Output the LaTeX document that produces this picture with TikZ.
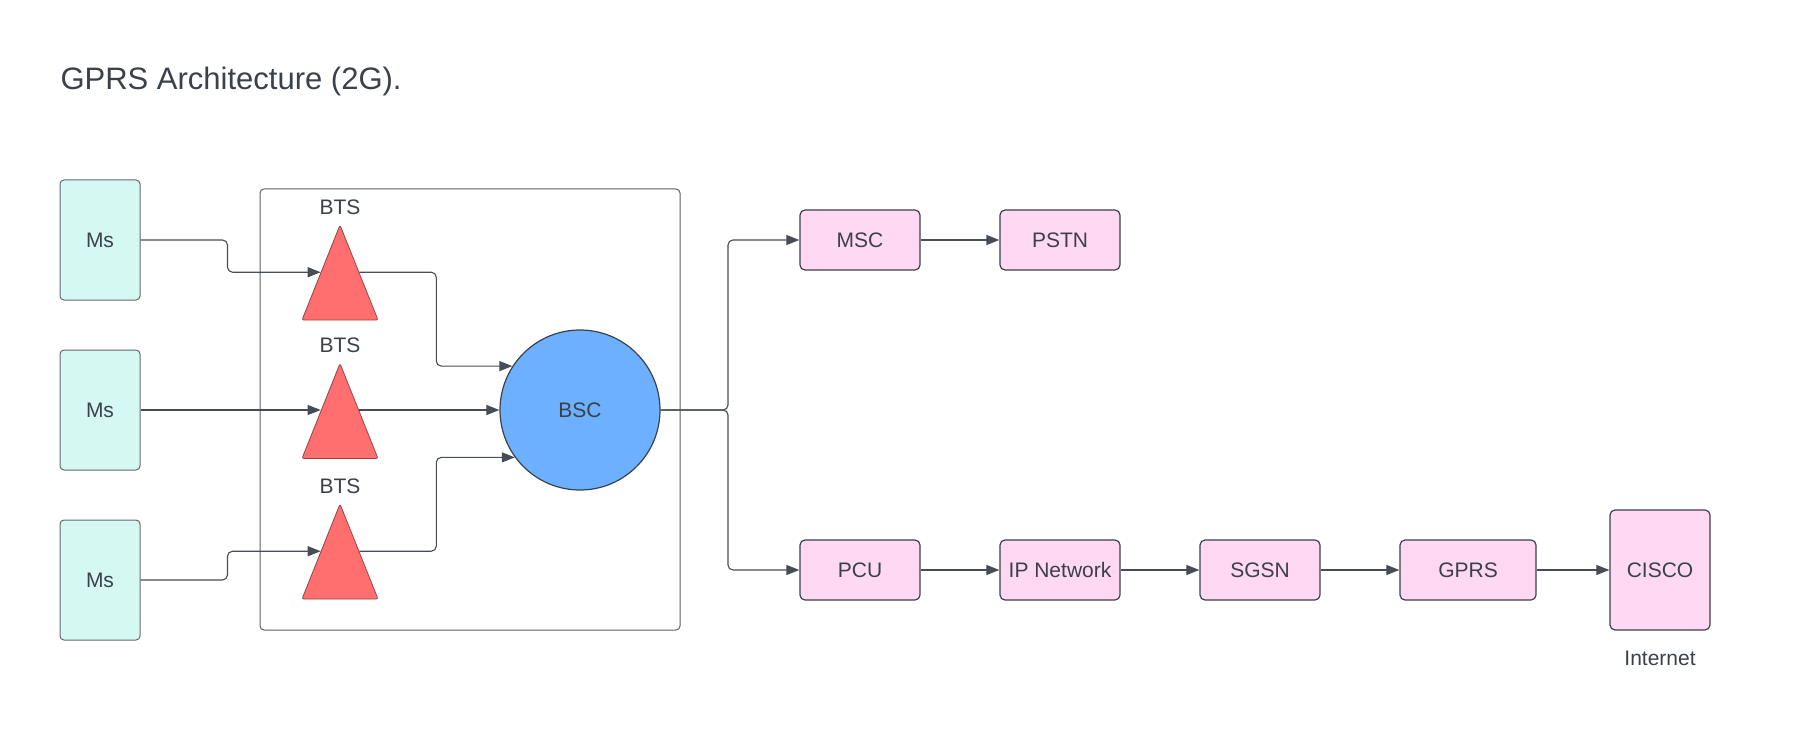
\documentclass[tikz,border=0pt]{standalone}
\usepackage{fontspec}
\setmainfont{Liberation Sans}
\usetikzlibrary{arrows.meta,shapes.geometric}

\definecolor{inkgray}{HTML}{3A414A}
\definecolor{linegray}{HTML}{474D56}
\definecolor{msfill}{HTML}{D6F8F2}
\definecolor{btsfill}{HTML}{FF6F6F}
\definecolor{bscfill}{HTML}{6DB0FF}
\definecolor{corefill}{HTML}{FFD8F4}

\begin{document}
\begin{tikzpicture}[x=1pt, y=-1pt,
    every node/.style={text=inkgray, font=\fontsize{21}{25}\selectfont},
    msbox/.style={draw=linegray!85, line width=1pt, fill=msfill, rounded corners=4pt,
      minimum width=80pt, minimum height=120pt},
    corebox/.style={draw=inkgray, line width=1.2pt, fill=corefill, rounded corners=5pt,
      minimum width=120pt, minimum height=60pt, inner sep=1pt},
    btstri/.style={isosceles triangle, isosceles triangle stretches, shape border rotate=90,
      minimum width=76pt, minimum height=95pt, inner sep=0pt, fill=btsfill,
      draw=btsfill!60!black, line width=0.8pt, rounded corners=2pt},
    link/.style={draw=linegray, line width=1.1pt, rounded corners=5pt,
      -{Triangle[length=13pt,width=10pt]}}]
  \useasboundingbox (0,0) rectangle (1820,730);

  \node[anchor=base west, font=\fontsize{31}{36}\selectfont] (title) at (57,90) {GPRS Architecture (2G).};

  % BSS frame
  \node[draw=linegray!90, line width=1pt, rounded corners=4pt, minimum width=420pt,
    minimum height=441pt] (bss) at (470,409.5) {};

  % Mobile stations
  \foreach \i/\y in {1/240, 2/410, 3/580} {
    \node[msbox] (ms\i) at (100,\y) {Ms};
  }

  % BTS triangles
  \foreach \i/\y in {1/224, 2/362.5, 3/503} {
    \node[btstri, anchor=apex] (bts\i) at (340,\y) {};
    \node (btslbl\i) at (340,\y-17) {BTS};
  }

  \node[circle, draw=inkgray, line width=1.2pt, fill=bscfill, minimum size=160pt] (bsc) at (580,410) {BSC};

  % Core network
  \node[corebox] (msc) at (860,240) {MSC};
  \node[corebox] (pstn) at (1060,240) {PSTN};
  \node[corebox] (pcu) at (860,570) {PCU};
  \node[corebox] (ipnet) at (1060,570) {IP Network};
  \node[corebox] (sgsn) at (1260,570) {SGSN};
  \node[corebox, minimum width=136pt] (gprs) at (1468,570) {GPRS};
  \node[corebox, minimum width=100pt, minimum height=120pt] (cisco) at (1660,570) {CISCO};
  \node (inet) at (1660,658) {Internet};

  \coordinate (fork) at (728,410);

  % Draw connectors
  \draw[link] (ms1.east) -- ++(87,0) |- (bts1.left side);
  \draw[link] (ms2.east) -- (ms2.east -| bts2.left side);
  \draw[link] (ms3.east) -- ++(87,0) |- (bts3.left side);
  \draw[link] (bts1.right side) -- ++(77,0) |- (bsc.147);
  \draw[link] (bsc.west -| bts2.right side) -- (bsc.west);
  \draw[link] (bts3.right side) -- ++(77,0) |- (bsc.216);

  \draw[link] (bsc.east) -- (fork) |- (msc.west);
  \draw[link] (bsc.east) -- (fork) |- (pcu.west);
  \draw[link] (msc.east) -- (pstn.west);
  \foreach \a/\b in {pcu/ipnet, ipnet/sgsn, sgsn/gprs, gprs/cisco} {
    \draw[link] (\a.east) -- (\b.west);
  }
\end{tikzpicture}
\end{document}
